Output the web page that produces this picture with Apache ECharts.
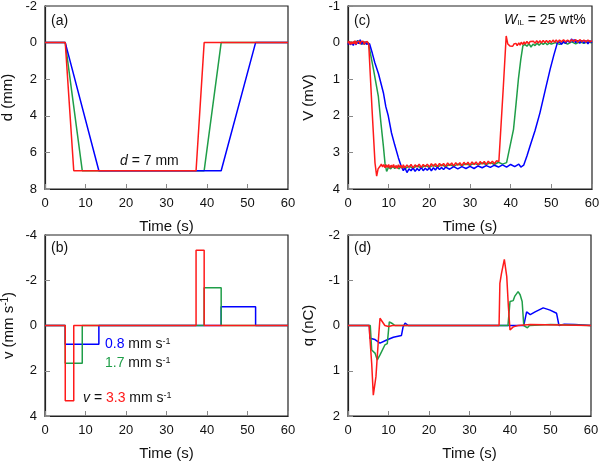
<!DOCTYPE html>
<html><head><meta charset="utf-8">
<script src="https://cdn.jsdelivr.net/npm/echarts@6/dist/echarts.min.js"></script>
<style>html,body{margin:0;padding:0;background:#fff}#c{width:600px;height:461px}</style>
</head><body><div id="c"></div>
<script>
// ---------- data ----------
const timeTicks = [0,10,20,30,40,50,60];
// (a) displacement d (mm): [time, d]
const dRed   = [[0,0],[5,0],[7.1,7],[37.3,7],[39.3,0],[60,0]];
const dGreen = [[0,0],[5,0],[9.2,7],[39.3,7],[43.5,0],[60,0]];
const dBlue  = [[0,0],[5,0],[13.3,7],[43.5,7],[52,0],[60,0]];
// (b) velocity v (mm/s)
const vRed   = [[0,0],[5,0],[5,3.33],[7.1,3.33],[7.1,0],[37.3,0],[37.3,-3.33],[39.3,-3.33],[39.3,0],[60,0]];
const vGreen = [[0,0],[5,0],[5,1.67],[9.2,1.67],[9.2,0],[39.3,0],[39.3,-1.67],[43.5,-1.67],[43.5,0],[60,0]];
const vBlue  = [[0,0],[5,0],[5,0.83],[13.3,0.83],[13.3,0],[43.5,0],[43.5,-0.83],[52,-0.83],[52,0],[60,0]];
// (c) voltage V (mV)
const VBlue = [[0,0.05],[0.3,-0.04],[0.6,0.06],[1,0.0],[1.3,0.08],[1.6,-0.03],[2,0.06],[2.3,-0.05],[2.6,0.03],[3,-0.08],[3.3,0.05],[3.6,-0.03],[4,0.05],[4.3,-0.02],[4.6,0.04],[5,0.0],[5.3,0.03],
 [6,0.3],[6.6,0.55],[7.5,0.85],[8.7,1.37],[9.3,1.75],[9.9,2.0],[10.7,2.47],[11.5,2.8],[12.4,3.15],[13,3.35],[13.6,3.5],[14,3.42],[14.5,3.55],
 [15,3.45],[15.5,3.5],[16,3.42],[16.5,3.52],[17,3.44],[17.5,3.5],[18,3.41],[18.5,3.5],[19,3.43],[19.5,3.49],[20,3.42],[20.5,3.5],[21,3.42],[21.5,3.48],[22,3.4],
 [22.5,3.47],[23,3.41],[23.5,3.47],[24,3.4],[25,3.46],[26,3.39],[27,3.45],[28,3.39],[29,3.44],[30,3.38],[31,3.44],[32,3.37],[33,3.42],[34,3.36],[35,3.41],[36,3.35],
 [37,3.4],[38,3.34],[39,3.4],[40,3.33],[41,3.39],[42,3.32],[42.5,3.4],[43.2,3.35],[44,3.1],[44.75,2.83],[46,2.4],[47.2,1.92],[48.5,1.3],
 [49.7,0.73],[50.6,0.35],[51.5,0.0],[52,-0.02],[52.5,0.05],[53,-0.03],[53.5,0.02],[54,-0.06],[54.5,0.0],[55,-0.1],[55.3,-0.02],[55.6,-0.08],[56,0.0],[56.5,-0.06],
 [57,0.02],[57.5,-0.06],[58,0.01],[58.5,-0.05],[59,0.03],[59.5,-0.05],[60,0.0]];
const VGreen = [[0,0.02],[0.4,0.05],[0.8,-0.02],[1.2,0.04],[1.6,-0.04],[2,0.03],[2.4,-0.06],[2.8,0.02],[3.2,-0.03],[3.6,0.04],[4,-0.02],[4.5,0.04],[5,0.0],[5.3,0.05],
 [6.3,0.75],[7.45,1.46],[8.1,2.2],[8.7,2.83],[9.1,3.3],[9.5,3.52],[10,3.4],[10.5,3.45],[11,3.38],[11.5,3.44],[12,3.37],[12.5,3.45],[13,3.39],
 [14,3.44],[15,3.38],[16,3.43],[17,3.37],[18,3.42],[19,3.36],[20,3.41],[21,3.35],[22,3.4],[23,3.34],[24,3.39],[25,3.33],[26,3.38],[27,3.32],
 [28,3.36],[29,3.31],[30,3.35],[31,3.3],[32,3.34],[33,3.29],[34,3.33],[35,3.28],[36,3.33],[37,3.27],[38,3.32],[39,3.28],[39.4,3.3],
 [40.7,2.37],[41.3,1.7],[41.9,1.0],[42.5,0.45],[43,0.09],[43.5,0.05],[44,0.1],[44.5,0.03],[45,0.12],[45.5,0.04],[46,0.08],[46.5,0.02],[47,0.07],
 [47.5,0.01],[48,0.05],[48.5,0.0],[49,0.06],[49.5,0.01],[50,0.04],[51,0.0],[52,0.05],[53,-0.01],[54,0.04],[55,-0.02],[56,0.03],[57,-0.02],[58,0.02],[59,-0.02],[60,0.01]];
const VRed = [[0,0.02],[0.25,-0.04],[0.5,0.05],[0.75,-0.02],[1,0.04],[1.25,-0.03],[1.5,0.03],[1.75,-0.05],[2,0.05],[2.25,-0.02],[2.5,0.03],[2.75,-0.04],
 [3,0.04],[3.25,-0.03],[3.5,0.02],[3.75,-0.04],[4,0.05],[4.25,-0.01],[4.5,0.03],[4.75,-0.03],[5,0.02],[5.1,0.05],
 [5.9,1.8],[6.64,3.29],[7.05,3.65],[7.4,3.45],[7.87,3.38],[8.2,3.32],[8.5,3.4],[8.8,3.33],[9.1,3.42],[9.4,3.34],[9.7,3.41],[10,3.33],[10.3,3.43],[10.6,3.35],
 [10.9,3.41],[11.2,3.33],[11.5,3.42],[11.8,3.36],[12.1,3.44],[12.4,3.34],[12.7,3.41],[13,3.35],[13.3,3.43],[13.6,3.34],[14,3.42],[14.5,3.34],[15,3.41],
 [15.5,3.33],[16,3.42],[16.5,3.34],[17,3.4],[17.5,3.32],[18,3.41],[18.5,3.33],[19,3.39],[19.5,3.32],[20,3.4],[20.5,3.31],[21,3.38],[21.5,3.31],[22,3.39],
 [22.5,3.3],[23,3.37],[23.5,3.3],[24,3.38],[24.5,3.29],[25,3.36],[25.5,3.29],[26,3.37],[26.5,3.28],[27,3.35],[27.5,3.28],[28,3.36],[28.5,3.27],[29,3.34],
 [29.5,3.27],[30,3.35],[30.5,3.26],[31,3.33],[31.5,3.26],[32,3.34],[32.5,3.25],[33,3.32],[33.5,3.25],[34,3.33],[34.5,3.24],[35,3.31],[35.5,3.24],[36,3.31],
 [36.5,3.23],[37.1,3.25],[38.2,1.2],[38.9,-0.18],[39.3,0.04],[39.8,0.09],[40.2,0.05],[40.5,0.1],[40.8,0.04],[41,0.09],[41.3,0.02],[41.6,0.08],[42,0.01],
 [42.3,0.07],[42.6,-0.01],[43,0.05],[43.3,-0.02],[43.6,0.04],[44,-0.03],[44.4,0.03],[44.8,-0.03],[45.2,0.02],[45.6,-0.04],[46,0.02],[46.4,-0.05],[46.8,0.01],
 [47.2,-0.05],[47.6,0.01],[48,-0.06],[48.4,0.0],[48.8,-0.06],[49.2,0.0],[49.6,-0.06],[50,0.0],[50.4,-0.07],[50.8,-0.01],[51.2,-0.07],[51.6,-0.01],[52,-0.07],
 [52.5,-0.02],[53,-0.08],[53.5,-0.02],[54,-0.07],[54.5,-0.02],[55,-0.08],[55.5,-0.03],[56,-0.08],[56.5,-0.02],[57,-0.08],[57.5,-0.03],[58,-0.07],[58.5,-0.02],
 [59,-0.07],[59.5,-0.02],[60,-0.05]];
// (d) charge q (nC)
const qBlue = [[0,0],[5.3,0],[5.4,0.28],[6.67,0.31],[7.9,0.39],[9.55,0.32],[11.2,0.26],[13.2,0.22],[13.6,0.03],[14.1,-0.05],[14.9,0],
 [43.4,0],[44.1,-0.3],[45,-0.24],[46.2,-0.3],[48.2,-0.39],[49.9,-0.34],[51.5,-0.27],[52.1,0],[53.4,-0.03],[56,-0.02],[60,0]];
const qGreen = [[0,0],[5.5,0],[5.85,0.54],[6.67,0.61],[7.24,0.76],[7.9,0.65],[9.1,0.43],[9.7,0.4],[10.2,-0.08],[10.8,-0.05],[11.6,0],
 [39.5,0],[40,-0.53],[40.8,-0.55],[41.2,-0.65],[42,-0.75],[42.5,-0.68],[43,-0.53],[43.4,0],[44.3,0.05],[44.8,0],[50,-0.02],[60,0]];
const qRed = [[0,0],[5.2,0],[5.85,0.84],[6.25,1.54],[6.9,1.13],[7.5,0.32],[7.9,-0.16],[8.3,-0.15],[9.1,0],[10,0.02],[11,0],
 [37.3,0],[37.5,-0.93],[37.9,-1.15],[38.6,-1.46],[39.2,-1.08],[39.6,-0.42],[40,0.1],[40.8,0.03],[42,0],[45,-0.02],[60,0]];

// ---------- styling ----------
const FONT = 'Liberation Sans, Arial, sans-serif';
const BLUE = '#0000ff', GREEN = '#1f9e48', RED = '#ff1a1a';
const grids = [
  {left:45, top:6, width:243, height:183},
  {left:45, top:235, width:243, height:181},
  {left:348, top:6, width:244, height:183},
  {left:348, top:235, width:243, height:181}
].map(g => Object.assign({show:true, borderColor:'#222', borderWidth:1.2, backgroundColor:'transparent',
  containLabel:false, outerBoundsMode:'none'}, g));

function xAx(i){
  return {type:'value', gridIndex:i, min:0, max:60, interval:10,
    name:'Time (s)', nameLocation:'middle', nameGap:30,
    nameTextStyle:{fontFamily:FONT, fontSize:15, color:'#111'},
    axisLine:{show:true, onZero:false, lineStyle:{color:'#222', width:1.2}},
    axisTick:{show:true, inside:true, length:5, lineStyle:{color:'#888'}},
    axisLabel:{fontFamily:FONT, fontSize:13, color:'#111', margin:8},
    splitLine:{show:false}};
}
function yAx(i, min, max, interval, name, gap, rich){
  const a = {type:'value', gridIndex:i, min:min, max:max, interval:interval, inverse:true,
    name:name, nameLocation:'middle', nameGap:gap,
    nameTextStyle:{fontFamily:FONT, fontSize:15, color:'#111'},
    axisLine:{show:true, onZero:false, lineStyle:{color:'#222', width:1.2}},
    axisTick:{show:true, inside:true, length:5, lineStyle:{color:'#888'}},
    axisLabel:{fontFamily:FONT, fontSize:13, color:'#111', margin:8},
    splitLine:{show:false}};
  if (rich) a.nameTextStyle.rich = rich;
  return a;
}
function ser(data, color, xi){
  return {type:'line', data:data, xAxisIndex:xi, yAxisIndex:xi, showSymbol:false, symbol:'none',
    lineStyle:{color:color, width:1.5}, itemStyle:{color:color}, animation:false, z:2};
}
const supRich = {
  a:{fontFamily:FONT, fontSize:15, color:'#111', lineHeight:18},
  s:{fontFamily:FONT, fontSize:10, color:'#111', verticalAlign:'top', lineHeight:18, padding:[0,0,6,0]}
};

const chart = echarts.init(document.getElementById('c'), null, {renderer:'canvas'});
chart.setOption({
  animation:false,
  grid: grids,
  xAxis:[xAx(0), xAx(1), xAx(2), xAx(3)],
  yAxis:[
    yAx(0, -2, 8, 2, 'd (mm)', 30),
    yAx(1, -4, 4, 2, '{a|v (mm s}{s|-1}{a|)}', 27, supRich),
    yAx(2, -1, 4, 1, 'V (mV)', 32),
    yAx(3, -2, 2, 1, 'q (nC)', 32)
  ],
  series:[
    ser(dGreen, GREEN, 0), ser(dBlue, BLUE, 0), ser(dRed, RED, 0),
    ser(vBlue, BLUE, 1), ser(vGreen, GREEN, 1), ser(vRed, RED, 1),
    ser(VGreen, GREEN, 2), ser(VBlue, BLUE, 2), ser(VRed, RED, 2),
    ser(qBlue, BLUE, 3), ser(qGreen, GREEN, 3), ser(qRed, RED, 3)
  ],
  graphic:[
    {type:'text', left:51, top:14, style:{text:'(a)', font:'14px '+FONT, fill:'#111'}},
    {type:'text', left:354, top:14, style:{text:'(c)', font:'14px '+FONT, fill:'#111'}},
    {type:'text', left:51, top:241, style:{text:'(b)', font:'14px '+FONT, fill:'#111'}},
    {type:'text', left:354, top:241, style:{text:'(d)', font:'14px '+FONT, fill:'#111'}},
    {type:'text', left:120, top:154, style:{text:'{i|d} = 7 mm', font:'14px '+FONT, fill:'#111',
      rich:{i:{fontStyle:'italic', fontFamily:FONT, fontSize:14, fill:'#111'}}}},
    {type:'text', left:504, top:13, style:{text:'{i|W}{sub|IL} = 25 wt%', font:'14px '+FONT, fill:'#111',
      rich:{i:{fontStyle:'italic', fontFamily:FONT, fontSize:14}, sub:{fontFamily:FONT, fontSize:8, verticalAlign:'bottom', padding:[6,0,0,0]}}}},
    {type:'text', left:105, top:337, style:{text:'{b|0.8} mm s{s|-1}', font:'14px '+FONT, fill:'#111',
      rich:{b:{fill:BLUE, fontFamily:FONT, fontSize:14}, s:{fontFamily:FONT, fontSize:9, verticalAlign:'top', padding:[0,0,6,0]}}}},
    {type:'text', left:105, top:356, style:{text:'{g|1.7} mm s{s|-1}', font:'14px '+FONT, fill:'#111',
      rich:{g:{fill:GREEN, fontFamily:FONT, fontSize:14}, s:{fontFamily:FONT, fontSize:9, verticalAlign:'top', padding:[0,0,6,0]}}}},
    {type:'text', left:83, top:391, style:{text:'{i|v} = {r|3.3} mm s{s|-1}', font:'14px '+FONT, fill:'#111',
      rich:{i:{fontStyle:'italic', fontFamily:FONT, fontSize:14}, r:{fill:RED, fontFamily:FONT, fontSize:14}, s:{fontFamily:FONT, fontSize:9, verticalAlign:'top', padding:[0,0,6,0]}}}}
  ]
});
</script>
</body></html>
